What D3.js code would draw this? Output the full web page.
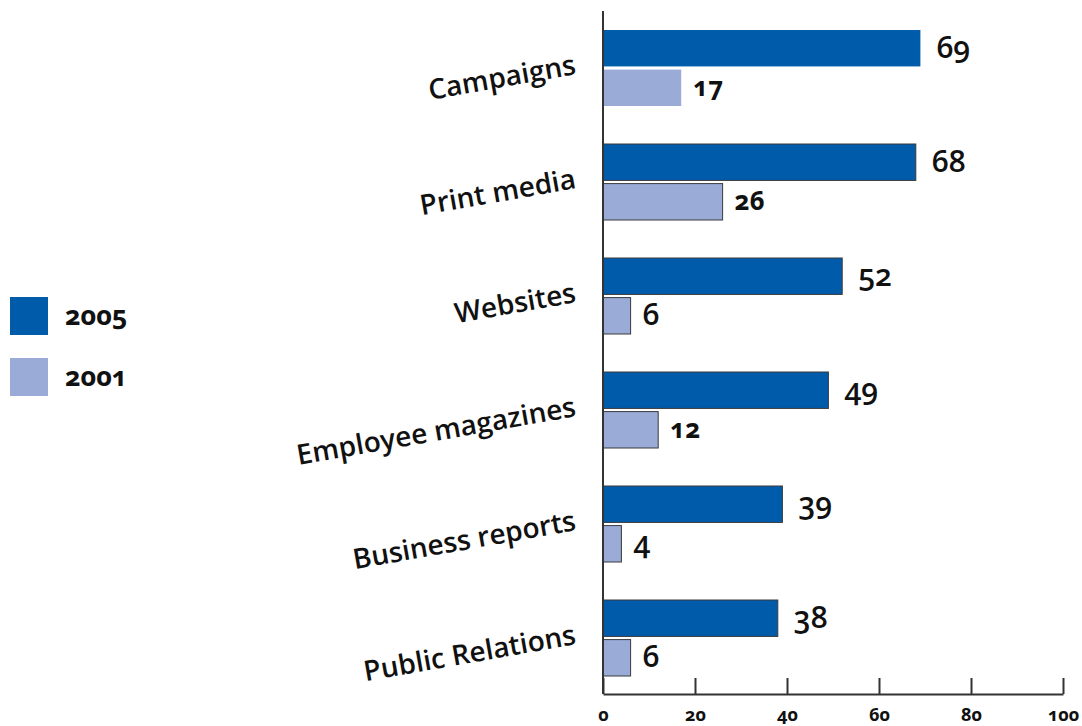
<!DOCTYPE html>
<html>
<head>
<meta charset="utf-8">
<script src="https://cdn.jsdelivr.net/npm/d3@7"></script>
<style>
  html, body { margin: 0; padding: 0; background: #fff; }
  svg { display: block; font-family: "Open Sans", sans-serif; font-variant-numeric: oldstyle-nums; }
</style>
</head>
<body>
<svg id="chart" width="1082" height="726"></svg>
<script>
// Share of companies using each communication channel, 2005 vs 2001
const categories = ["Campaigns", "Print media", "Websites", "Employee magazines", "Business reports", "Public Relations"];
const seriesNames = ["2005", "2001"];
const values2005 = [69, 68, 52, 49, 39, 38];
const values2001 = [17, 26, 6, 12, 4, 6];
const xTicks = [0, 20, 40, 60, 80, 100];
const colors = ["#005BAA", "#9AABD7"];

const svg = d3.select("#chart");

const x = d3.scaleLinear().domain([0, 100]).range([603, 1063]);
const y = d3.scaleBand().domain(categories).range([11, 695]).paddingInner(1 / 3).paddingOuter(1 / 6);
const ySub = d3.scaleBand().domain(seriesNames).range([0, y.bandwidth()]).paddingInner(0.08);
const color = d3.scaleOrdinal().domain(seriesNames).range(colors);

const rows = categories.map((c, i) => ({
  category: c,
  values: [
    { series: "2005", value: values2005[i] },
    { series: "2001", value: values2001[i] }
  ]
}));

// bars
const groups = svg.append("g").selectAll("g")
  .data(rows)
  .join("g")
  .attr("transform", d => `translate(0,${y(d.category)})`);

groups.selectAll("rect")
  .data(d => d.values.map(v => ({ ...v, category: d.category })))
  .join("rect")
  .attr("x", x(0))
  .attr("y", d => ySub(d.series))
  .attr("width", d => x(d.value) - x(0))
  .attr("height", ySub.bandwidth())
  .attr("fill", d => color(d.series))
  .attr("stroke", d => d.category === categories[0] ? "none" : "#3a3a3a")
  .attr("stroke-width", 1);

// value labels: two-digit 2001 figures are set smaller and bolder
const small = d => d.series === "2001" && d.value >= 10;
groups.selectAll("text")
  .data(d => d.values)
  .join("text")
  .attr("x", d => x(d.value) + (d.series === "2005" ? 16 : 12))
  .attr("y", d => ySub(d.series) + ySub.bandwidth() / 2)
  .attr("dy", "0.32em")
  .attr("font-size", d => small(d) ? 26 : 30)
  .attr("font-weight", d => small(d) ? 700 : 600)
  .attr("fill", "#111")
  .text(d => d.value);

// category labels, tilted
svg.append("g").selectAll("text")
  .data(categories)
  .join("text")
  .attr("transform", d => `translate(577,${y(d) + y.bandwidth() / 2 + 6}) rotate(-10)`)
  .attr("text-anchor", "end")
  .attr("font-size", 28)
  .attr("font-weight", 600)
  .attr("fill", "#111")
  .text(d => d);

// vertical baseline
svg.append("line")
  .attr("x1", x(0)).attr("x2", x(0))
  .attr("y1", 11).attr("y2", 694)
  .attr("stroke", "#333").attr("stroke-width", 2);

// bottom axis
const axis = svg.append("g")
  .attr("transform", "translate(0,694)")
  .call(d3.axisBottom(x).tickValues(xTicks).tickSize(-16).tickPadding(12).tickSizeOuter(0));
axis.select(".domain").attr("stroke", "#333").attr("stroke-width", 2);
axis.selectAll(".tick line").attr("stroke", "#333").attr("stroke-width", 2);
axis.selectAll(".tick text")
  .attr("y", 27)
  .attr("dy", 0)
  .attr("font-family", "'Open Sans', sans-serif")
  .attr("font-size", 18)
  .attr("font-weight", 700)
  .attr("fill", "#111");

// legend
const legend = svg.append("g").selectAll("g")
  .data(seriesNames)
  .join("g")
  .attr("transform", (d, i) => `translate(10,${297 + i * 61})`);
legend.append("rect")
  .attr("width", 38).attr("height", 38)
  .attr("fill", d => color(d));
legend.append("text")
  .attr("x", 55).attr("y", 19).attr("dy", "0.32em")
  .attr("font-size", 27)
  .attr("font-weight", 700)
  .attr("fill", "#111")
  .text(d => d);
</script>
</body>
</html>
